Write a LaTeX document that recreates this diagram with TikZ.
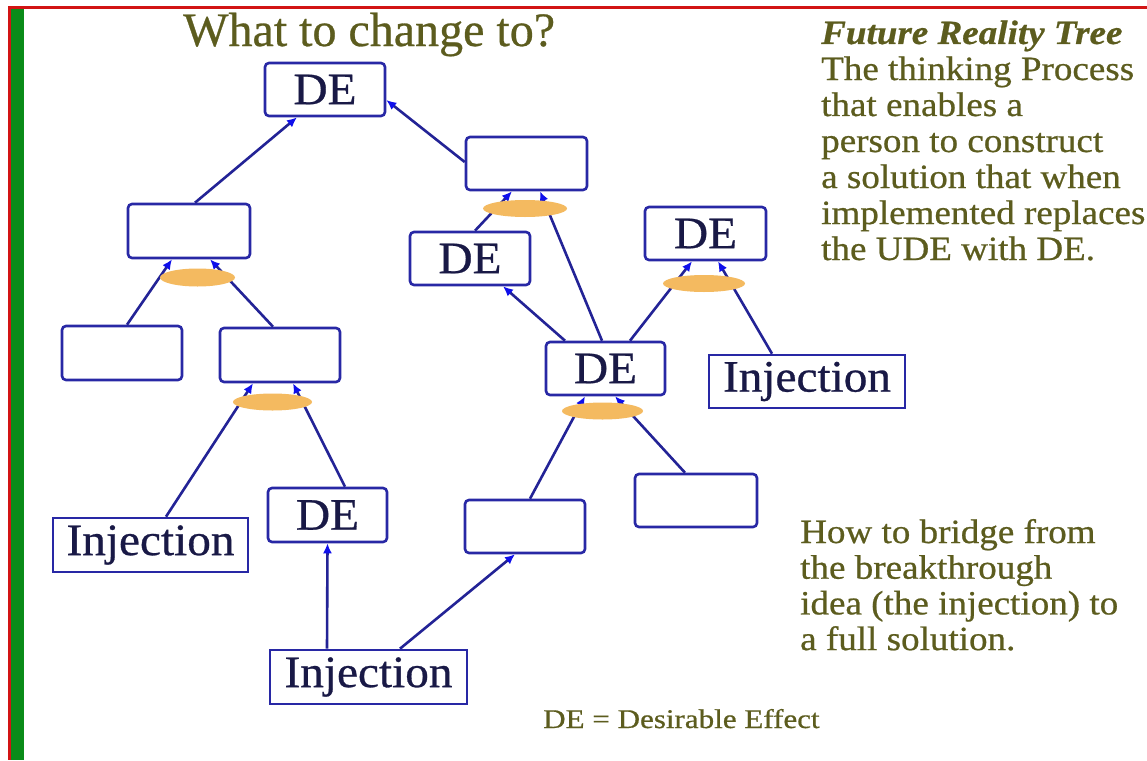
\documentclass[tikz,border=0pt]{standalone}
\usepackage{graphicx}
\usepackage{fontspec}
\setmainfont{Liberation Serif}[FakeBold=0.6]
\usetikzlibrary{arrows.meta,shapes.geometric,calc}

\definecolor{boxblue}{RGB}{40,40,165}
\definecolor{linkblue}{RGB}{35,35,150}
\definecolor{tipblue}{RGB}{15,15,235}
\definecolor{andorange}{RGB}{244,186,96}
\definecolor{olivetext}{RGB}{92,92,30}
\definecolor{navytext}{RGB}{25,25,70}
\definecolor{framered}{RGB}{210,20,20}
\definecolor{framegreen}{RGB}{10,140,25}

% horizontally widened text
\newcommand\widen[2][1.05]{\scalebox{#1}[1]{#2}}

\tikzset{
  effect/.style={draw=boxblue, line width=2.6pt, fill=white, rounded corners=4pt,
    minimum width=120pt, minimum height=53pt, inner sep=0pt, text=navytext,
    font=\fontsize{45}{50}\selectfont},
  inject/.style={effect, rounded corners=0pt, minimum width=196pt},
  link/.style={draw=linkblue, line width=2.6pt,
    -{Latex[length=10pt,width=9pt,color=tipblue]}},
  andjoin/.style={ellipse, fill=andorange, draw=none, inner sep=0pt},
  note/.style={inner sep=0pt, text=olivetext, anchor=base west},
}

\begin{document}
\begin{tikzpicture}[x=1pt, y=-1pt]
  % page and frame
  \useasboundingbox (0,0) rectangle (1147,760);
  \fill[white] (0,0) rectangle (1147,760);
  \fill[framered] (8,6.5) rectangle (1147,9.5);
  \fill[framered] (8,6.5) rectangle (11,760);
  \fill[framegreen] (11,9.5) rectangle (24,760);

  % headings and notes
  \node[note] (title) at (183,46)
    {\fontsize{48}{54}\selectfont\widen[1.0]{What to change to?}};
  \node[note] (frt) at (821,44)
    {\fontsize{34}{36}\selectfont\widen[1.09]{\begin{tabular}[t]{@{}l@{}}
      \textbf{\textit{Future Reality Tree}}\\
      The thinking Process\\
      that enables a\\
      person to construct\\
      a solution that when\\
      implemented replaces\\
      the UDE with DE.
    \end{tabular}}};
  \node[note] (bridge) at (800,543)
    {\fontsize{34}{35.7}\selectfont\widen[1.09]{\begin{tabular}[t]{@{}l@{}}
      How to bridge from\\
      the breakthrough\\
      idea (the injection) to\\
      a full solution.
    \end{tabular}}};
  \node[note] (legend) at (543,728)
    {\fontsize{27}{30}\selectfont\widen[1.15]{DE = Desirable Effect}};

  % tree entities
  \node[effect] (detop) at (325,89.5) {\widen{DE}};
  \node[effect, minimum width=122pt, minimum height=54pt] (a) at (189,231) {};
  \node[effect, minimum height=54pt] (b) at (122,353) {};
  \node[effect, minimum height=54pt] (c) at (280,355) {};
  \node[inject, minimum width=195pt, minimum height=54pt] (injl) at (150.5,545) {\widen{Injection}};
  \node[effect, minimum width=119pt, minimum height=54pt] (del) at (327.5,515) {\widen{DE}};
  \node[inject, minimum width=197pt, minimum height=54pt] (injb) at (368.5,677) {\widen{Injection}};
  \node[effect] (d) at (525,526.5) {};
  \node[effect, minimum width=121pt] (e) at (526.5,163.5) {};
  \node[effect] (deml) at (470,258.5) {\widen{DE}};
  \node[effect, minimum width=119pt] (dec) at (605.5,368.5) {\widen{DE}};
  \node[effect, minimum width=121pt] (der) at (705.5,233.5) {\widen{DE}};
  \node[inject] (injr) at (807,381.5) {\widen{Injection}};
  \node[effect, minimum width=122pt] (f) at (696,500.5) {};

  % cause-effect connectors
  \draw[link] ([xshift=6pt]a.north) -- ([xshift=-28pt]detop.south);
  \draw[link] ([yshift=1.5pt]e.west) -- ([yshift=-10.5pt]detop.east);
  \draw[link] ([xshift=5pt]b.north) -- ([xshift=-17pt]a.south);
  \draw[link] ([xshift=-7pt]c.north) -- ([xshift=21pt]a.south);
  \draw[link] ([xshift=15.5pt]injl.north) -- ([xshift=-27pt]c.south);
  \draw[link] ([xshift=17.5pt]del.north) -- ([xshift=13pt]c.south);
  \draw[link] ([xshift=-41.5pt]injb.north) -- (del.south);
  \draw[link] ([xshift=31.5pt]injb.north) -- ([xshift=-10pt]d.south);
  \draw[link] ([xshift=5pt]d.north) -- ([xshift=-20.5pt]dec.south);
  \draw[link] ([xshift=-11pt]f.north) -- ([xshift=9.5pt]dec.south);
  \draw[link] ([xshift=-40.5pt]dec.north) -- ([xshift=33pt]deml.south);
  \draw[link] ([xshift=-3.5pt]dec.north) -- ([xshift=13.5pt]e.south);
  \draw[link] ([xshift=5pt]deml.north) -- ([xshift=-14.5pt]e.south);
  \draw[link] ([xshift=24.5pt]dec.north) -- ([xshift=-13.5pt]der.south);
  \draw[link] ([xshift=-35pt]injr.north) -- ([xshift=12.5pt]der.south);

  % AND junctions
  \node[andjoin, minimum width=75pt, minimum height=18pt] (anda) at (197.5,277.5) {};
  \node[andjoin, minimum width=79pt, minimum height=17pt] (andc) at (272.5,402) {};
  \node[andjoin, minimum width=84pt, minimum height=17pt] (ande) at (525,208.5) {};
  \node[andjoin, minimum width=82pt, minimum height=17pt] (andr) at (704,283.5) {};
  \node[andjoin, minimum width=81pt, minimum height=17pt] (andc2) at (602.5,411) {};
\end{tikzpicture}
\end{document}
